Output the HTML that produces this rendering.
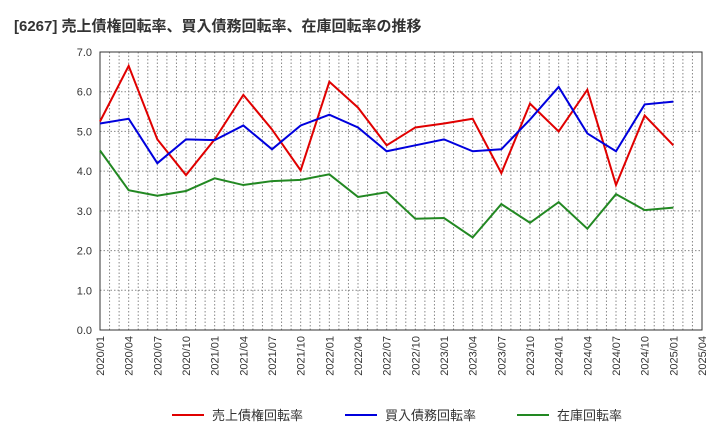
<!DOCTYPE html>
<html><head><meta charset="utf-8"><style>
body{margin:0;background:#fff;font-family:"Liberation Sans","Noto Sans CJK JP",sans-serif}
</style></head><body>
<svg width="720" height="440" xmlns="http://www.w3.org/2000/svg" font-family="Liberation Sans, Noto Sans CJK JP, sans-serif">
<text x="14" y="31" font-size="15" font-weight="bold" fill="#333">[6267]  売上債権回転率、買入債務回転率、在庫回転率の推移</text>
<g id="grid"></g><g id="series"></g><g id="legend"></g>
</svg>
<script>
const xLabels=["2020/01","2020/04","2020/07","2020/10","2021/01","2021/04","2021/07","2021/10","2022/01","2022/04","2022/07","2022/10","2023/01","2023/04","2023/07","2023/10","2024/01","2024/04","2024/07","2024/10","2025/01","2025/04"];
const yTicks=[0,1,2,3,4,5,6,7];
const seriesNames=["売上債権回転率","買入債務回転率","在庫回転率"];
const receivables=[5.25,6.65,4.8,3.9,4.8,5.92,5.05,4.02,6.25,5.6,4.65,5.1,5.2,5.32,3.95,5.7,5.0,6.05,3.65,5.4,4.65];
const payables=[5.2,5.32,4.2,4.8,4.78,5.15,4.55,5.15,5.42,5.1,4.5,4.65,4.8,4.5,4.55,5.3,6.12,4.95,4.5,5.68,5.75];
const inventory=[4.52,3.52,3.38,3.5,3.82,3.65,3.75,3.78,3.92,3.35,3.47,2.8,2.82,2.33,3.17,2.7,3.22,2.55,3.42,3.02,3.08];
const colors=["#e00000","#0000dd","#228822"];
const NS="http://www.w3.org/2000/svg";
const L=100,R=702,T=52,B=330;
const xs=i=>L+(R-L)*i/(xLabels.length-1);
const ys=v=>B-(B-T)*v/7;
function mk(t,a,p){const e=document.createElementNS(NS,t);for(const k in a)e.setAttribute(k,a[k]);p.appendChild(e);return e;}
const g=document.getElementById('grid');
yTicks.forEach(v=>{const y=ys(v);
const l=mk('line',{x1:L,x2:R,y1:y,y2:y,stroke:v===0?'#333':'#888','stroke-dasharray':v===0||v===7?'':'1.5,2'},g);


const t=mk('text',{x:L-8,y:y+4,'text-anchor':'end','font-size':11,fill:'#333'},g);t.textContent=v.toFixed(1);

});
for(let m=1;m<(xLabels.length-1)*3;m++){const x=L+(R-L)*m/((xLabels.length-1)*3);
const l=mk('line',{x1:x,x2:x,y1:T,y2:B,stroke:'#888','stroke-dasharray':'1.5,2'},g);

}
xLabels.forEach((s,i)=>{const x=xs(i);
const t=mk('text',{x:x+4,y:B+6,'text-anchor':'end','font-size':11,fill:'#333',transform:`rotate(-90 ${x+4} ${B+6})`},g);t.textContent=s;

});
mk('rect',{x:L,y:T,width:R-L,height:B-T,fill:'none',stroke:'#333'},g);
const sg=document.getElementById('series');
[receivables,payables,inventory].forEach((d,k)=>{
const p=mk('polyline',{points:d.map((v,i)=>xs(i)+','+ys(v)).join(' '),fill:'none',stroke:colors[k],'stroke-width':2},sg);

});
const lg=document.getElementById('legend');
const lx=[172,345,517];
seriesNames.forEach((n,k)=>{
const l=mk('line',{x1:lx[k],x2:lx[k]+32,y1:415,y2:415,stroke:colors[k],'stroke-width':2},lg);


const t=mk('text',{x:lx[k]+40,y:420,'font-size':13,fill:'#333'},lg);t.textContent=n;

});
</script>
</body></html>
